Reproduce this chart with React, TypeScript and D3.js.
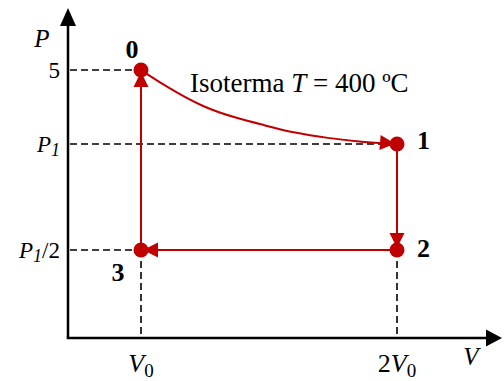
import React from 'react';
import * as d3 from 'd3';

// cycle states (V in units of V0, P in the diagram's units)
const stateNames = ['0', '1', '2', '3'];
const stateV = [1, 2, 2, 1];
const stateP = [5, 2.5, 1.25, 1.25];

// isotherm
const isoV = [1, 1.1, 1.24, 1.37, 1.48, 1.6, 1.73, 1.86, 2];
const isoP = [5, 4.43, 3.75, 3.38, 3.14, 2.87, 2.7, 2.57, 2.5];

const pTicks = [5, 2.5, 1.25];
const pTickLabels = ['5', 'P1', 'P1/2'];
const vTicks = [1, 2];
const vTickLabels = ['V0', '2V0'];
const isoLabel = 'Isoterma';
const isoTemp = '400 ºC';

const RED = '#c00000';
const FONT = '"Liberation Serif", "Times New Roman", serif';

const width = 504;
const height = 381;

export default function App() {
  // schematic, piecewise axes
  const x = d3.scaleLinear().domain([0, 1, 2]).range([68, 141, 397]);
  const y = d3.scaleLinear().domain([0, 1.25, 2.5, 5]).range([338, 250, 144, 70]);
  const x0 = x(0);
  const y0 = y(0);
  const xEnd = 502;
  const yTop = 8;

  const pts = stateV.map((v, i) => [x(v), y(stateP[i])] as [number, number]);

  const iso = isoV.map((v, i) => [x(v), y(isoP[i])] as [number, number]);
  const isoPath = d3.line().curve(d3.curveBasis)(iso) || '';

  // arrowhead pointing at `to`, coming from `from`
  const arrow = (from: [number, number], to: [number, number]) => {
    const dx = to[0] - from[0];
    const dy = to[1] - from[1];
    const len = Math.hypot(dx, dy);
    const ux = dx / len;
    const uy = dy / len;
    const tipOff = 2;
    const L = 15;
    const hw = 7.5;
    const tx = to[0] - ux * tipOff;
    const ty = to[1] - uy * tipOff;
    const bx = tx - ux * L;
    const by = ty - uy * L;
    return `M${tx},${ty}L${bx - uy * hw},${by + ux * hw}L${bx + uy * hw},${by - ux * hw}Z`;
  };

  const arrows = [
    arrow(iso[iso.length - 3], pts[1]),
    arrow(pts[1], pts[2]),
    arrow(pts[2], pts[3]),
    arrow(pts[3], pts[0]),
  ];

  const labelOffsets = [
    { dx: -9, dy: -12, anchor: 'middle' },
    { dx: 20, dy: 5, anchor: 'start' },
    { dx: 20, dy: 7, anchor: 'start' },
    { dx: -23, dy: 31, anchor: 'middle' },
  ];

  const dash = { stroke: '#000', strokeWidth: 1.6, strokeDasharray: '7,4', fill: 'none' };

  const pLabel = (s: string) => {
    if (s.startsWith('P1')) {
      return (
        <>
          <tspan fontStyle="italic">P</tspan>
          <tspan fontStyle="italic" fontSize={18} dy={4}>1</tspan>
          <tspan dy={-4}>{s.slice(2)}</tspan>
        </>
      );
    }
    return s;
  };

  const vLabel = (s: string) => {
    const i = s.indexOf('V');
    return (
      <>
        {s.slice(0, i)}
        <tspan fontStyle="italic">V</tspan>
        <tspan fontSize={19} dy={5}>{s.slice(i + 1)}</tspan>
      </>
    );
  };

  return (
    <svg
      width={width}
      height={height}
      style={{ position: 'absolute', left: 0, top: 0, display: 'block', background: '#fff' }}
      fontFamily={FONT}
    >
      {/* guide lines */}
      {pTicks.map((p, i) => (
        <line key={'ph' + i} x1={x0 + 2} x2={x(stateV[stateP.indexOf(p)] ?? 1)} y1={y(p)} y2={y(p)} style={dash} />
      ))}
      {vTicks.map((v, i) => (
        <line key={'vv' + i} x1={x(v)} x2={x(v)} y1={y(1.25)} y2={y0} style={dash} />
      ))}

      {/* axes */}
      <line x1={x0} x2={x0} y1={y0} y2={yTop + 14} stroke="#000" strokeWidth={2.5} />
      <path d={`M${x0},${yTop}L${x0 - 8},${yTop + 18}L${x0 + 8},${yTop + 18}Z`} fill="#000" />
      <line x1={x0 - 1.25} x2={xEnd - 12} y1={y0} y2={y0} stroke="#000" strokeWidth={2.5} />
      <path d={`M${xEnd},${y0}L${xEnd - 16},${y0 - 8.5}L${xEnd - 16},${y0 + 8.5}Z`} fill="#000" />

      {/* cycle */}
      <path d={isoPath} fill="none" stroke={RED} strokeWidth={2} />
      <line x1={pts[1][0]} y1={pts[1][1]} x2={pts[2][0]} y2={pts[2][1]} stroke={RED} strokeWidth={2} />
      <line x1={pts[2][0]} y1={pts[2][1]} x2={pts[3][0]} y2={pts[3][1]} stroke={RED} strokeWidth={2} />
      <line x1={pts[3][0]} y1={pts[3][1]} x2={pts[0][0]} y2={pts[0][1]} stroke={RED} strokeWidth={2} />
      {arrows.map((d, i) => (
        <path key={'a' + i} d={d} fill={RED} />
      ))}
      {pts.map((p, i) => (
        <circle key={'c' + i} cx={p[0]} cy={p[1]} r={7.5} fill={RED} />
      ))}

      {/* state labels */}
      {pts.map((p, i) => (
        <text
          key={'s' + i}
          x={p[0] + labelOffsets[i].dx}
          y={p[1] + labelOffsets[i].dy}
          textAnchor={labelOffsets[i].anchor}
          fontWeight="bold"
          fontSize={26}
        >
          {stateNames[i]}
        </text>
      ))}

      {/* tick labels */}
      {pTicks.map((p, i) => (
        <text key={'pt' + i} x={x0 - 8} y={y(p) + 8} textAnchor="end" fontSize={23}>
          {pLabel(pTickLabels[i])}
        </text>
      ))}
      {vTicks.map((v, i) => (
        <text key={'vt' + i} x={x(v)} y={372} textAnchor="middle" fontSize={26}>
          {vLabel(vTickLabels[i])}
        </text>
      ))}

      {/* axis titles */}
      <text x={42} y={47} textAnchor="middle" fontStyle="italic" fontSize={25}>P</text>
      <text x={471} y={365} textAnchor="middle" fontStyle="italic" fontSize={25}>V</text>

      {/* isotherm label */}
      <text x={190} y={92} fontSize={27}>
        {isoLabel + ' '}
        <tspan fontStyle="italic">T</tspan>
        {' = ' + isoTemp}
      </text>
    </svg>
  );
}
